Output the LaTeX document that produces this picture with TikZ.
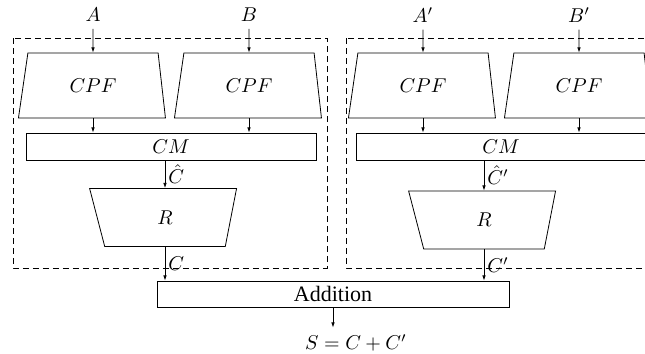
\documentclass[tikz,border=0pt]{standalone}
\usepackage{fontspec}
\newfontfamily\timesfont{Liberation Serif}
\usetikzlibrary{shapes.geometric,arrows.meta}

\begin{document}
\begin{tikzpicture}[x=0.5pt, y=-0.5pt,
    >={Latex[length=2.6pt,width=1.8pt]},
    cpfbox/.style={draw, trapezium, trapezium stretches=true,
        trapezium left angle=76, trapezium right angle=79,
        minimum width=73.5pt, minimum height=32.5pt, inner sep=0pt},
    rbox/.style={draw, trapezium, trapezium stretches=true,
        shape border rotate=180, trapezium left angle=84, trapezium right angle=82,
        minimum width=73.5pt, minimum height=29pt, inner sep=0pt},
    cmbox/.style={draw, minimum width=145pt, minimum height=13.5pt, inner sep=0pt},
    flowlabel/.style={right, pos=0.5, inner sep=0.5pt, xshift=1pt},
    groupbox/.style={dash pattern=on 3pt off 2pt}]
    \useasboundingbox (0,0) rectangle (645,354);
    \clip (0,0) rectangle (645,354);

    % Draw the first group
    \node (inA) at (93,15) {$A$};
    \node (inB) at (249,15) {$B$};
    \node[cpfbox] (cpfA) at (93,85.5) {$CPF$};
    \node[cpfbox] (cpfB) at (249,85.5) {$CPF$};
    \node[cmbox] (cmL) at (171,146.5) {$CM$};
    \node[rbox] (rL) at (165,217.5) {$R$};

    % Draw the second group
    \node (inA2) at (423,15) {$A'$};
    \node (inB2) at (579,15) {$B'$};
    \node[cpfbox] (cpfA2) at (423,85.5) {$CPF$};
    \node[cpfbox] (cpfB2) at (579,85.5) {$CPF$};
    \node[cmbox] (cmR) at (501,146.5) {$CM$};
    \node[rbox] (rR) at (484,220) {$R$};

    % Draw the addition and its result
    \node[draw, minimum width=176pt, minimum height=13pt, inner sep=0pt,
        font=\timesfont\fontsize{11}{13}\selectfont] (add) at (333,294) {Addition};
    \node (sum) at (356,343) {$S=C+C'$};

    % Draw the dashed groups
    \draw[groupbox] (13,38) rectangle (327,268);
    \draw[groupbox] (346,38) rectangle (660,268);

    % Draw the arrows of the first group
    \draw[->] (inA) -- (cpfA);
    \draw[->] (inB) -- (cpfB);
    \draw[->] (cpfA.south) -- (cpfA.south |- cmL.north);
    \draw[->] (cpfB.south) -- (cpfB.south |- cmL.north);
    \draw[->] (rL.north |- cmL.south) -- node[flowlabel] {$\hat{C}$} (rL.north);
    \draw[->] (rL.south) -- node[flowlabel] {$C$} (rL.south |- add.north);

    % Draw the arrows of the second group
    \draw[->] (inA2) -- (cpfA2);
    \draw[->] (inB2) -- (cpfB2);
    \draw[->] (cpfA2.south) -- (cpfA2.south |- cmR.north);
    \draw[->] (cpfB2.south) -- (cpfB2.south |- cmR.north);
    \draw[->] (rR.north |- cmR.south) -- node[flowlabel] {$\hat{C}'$} (rR.north);
    \draw[->] (rR.south) -- node[flowlabel] {$C'$} (rR.south |- add.north);

    % Draw the output arrow
    \draw[->] (add.south) -- (add.south |- sum.north);
\end{tikzpicture}
\end{document}
